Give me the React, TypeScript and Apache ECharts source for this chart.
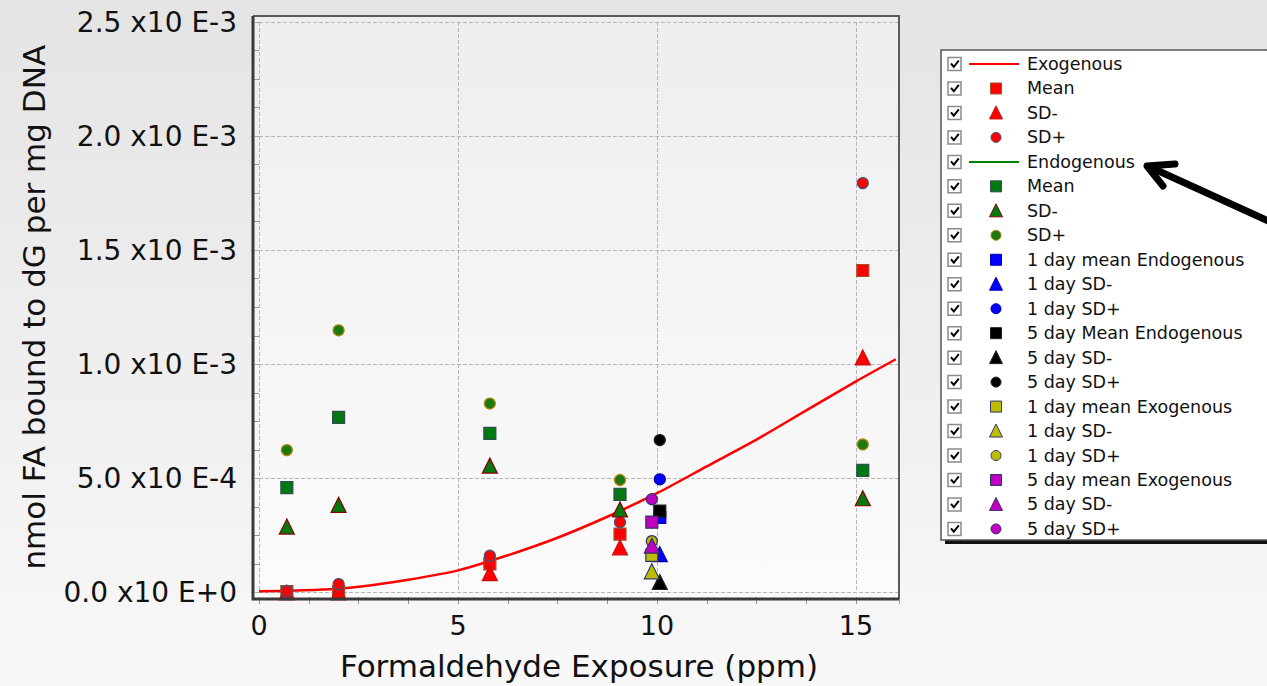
import React, { useEffect, useRef } from "react";
import * as echarts from "echarts";

// ---------- data ----------
const xTickLabels = ["0", "5", "10", "15"];
const yTickLabels = ["0.0 x10 E+0", "5.0 x10 E-4", "1.0 x10 E-3", "1.5 x10 E-3", "2.0 x10 E-3", "2.5 x10 E-3"];

// exogenous model curve
const exoCurveX = [0, 1.5, 2.5, 3.75, 5, 6.25, 7.5, 8.75, 10, 11.25, 12.5, 13.75, 15, 16];
const exoCurveY = [0.005e-3, 0.012e-3, 0.025e-3, 0.056e-3, 0.097e-3, 0.163e-3, 0.24e-3, 0.332e-3, 0.435e-3, 0.553e-3, 0.67e-3, 0.798e-3, 0.925e-3, 1.022e-3];
// endogenous model curve (no visible points)
const endoCurveX: number[] = [];
const endoCurveY: number[] = [];

// dose groups
const doseX = [0.7, 2.0, 5.8, 9.07, 15.17];
const exoMean = [0.004e-3, 0.004e-3, 0.125e-3, 0.256e-3, 1.411e-3];
const exoSDMinus = [0, 0, 0.085e-3, 0.198e-3, 1.03e-3];
const exoSDPlus = [0.006e-3, 0.037e-3, 0.161e-3, 0.308e-3, 1.794e-3];
const endoMean = [0.46e-3, 0.767e-3, 0.697e-3, 0.43e-3, 0.535e-3];
const endoSDMinus = [0.289e-3, 0.384e-3, 0.556e-3, 0.364e-3, 0.413e-3];
const endoSDPlus = [0.624e-3, 1.149e-3, 0.828e-3, 0.493e-3, 0.649e-3];

// time-course groups
const endoDayX = [10.07];
const day1EndoMean = [0.329e-3];
const day1EndoSDMinus = [0.168e-3];
const day1EndoSDPlus = [0.496e-3];
const day5EndoMean = [0.357e-3];
const day5EndoSDMinus = [0.046e-3];
const day5EndoSDPlus = [0.668e-3];
const exoDayX = [9.87];
const day1ExoMean = [0.163e-3];
const day1ExoSDMinus = [0.093e-3];
const day1ExoSDPlus = [0.225e-3];
const day5ExoMean = [0.308e-3];
const day5ExoSDMinus = [0.205e-3];
const day5ExoSDPlus = [0.409e-3];

const legendLabels = [
  "Exogenous", "Mean", "SD-", "SD+",
  "Endogenous", "Mean", "SD-", "SD+",
  "1 day mean Endogenous", "1 day SD-", "1 day SD+",
  "5 day Mean Endogenous", "5 day SD-", "5 day SD+",
  "1 day mean Exogenous", "1 day SD-", "1 day SD+",
  "5 day mean Exogenous", "5 day SD-", "5 day SD+",
];

type Kind = "line" | "rect" | "triangle" | "circle";
interface Def { kind: Kind; xs: number[]; ys: number[]; color: string; border: string; }

const defs: Def[] = [
  { kind: "line", xs: exoCurveX, ys: exoCurveY, color: "#ff0000", border: "#ff0000" },
  { kind: "rect", xs: doseX, ys: exoMean, color: "#ff0000", border: "#a0522d" },
  { kind: "triangle", xs: doseX, ys: exoSDMinus, color: "#ff0000", border: "#c81010" },
  { kind: "circle", xs: doseX, ys: exoSDPlus, color: "#ff0000", border: "#3a5a7a" },
  { kind: "line", xs: endoCurveX, ys: endoCurveY, color: "#008000", border: "#008000" },
  { kind: "rect", xs: doseX, ys: endoMean, color: "#007a10", border: "#2f4f4f" },
  { kind: "triangle", xs: doseX, ys: endoSDMinus, color: "#007a10", border: "#8b0000" },
  { kind: "circle", xs: doseX, ys: endoSDPlus, color: "#1a7a10", border: "#b8860b" },
  { kind: "rect", xs: endoDayX, ys: day1EndoMean, color: "#0000ff", border: "#0000aa" },
  { kind: "triangle", xs: endoDayX, ys: day1EndoSDMinus, color: "#0000ff", border: "#0000aa" },
  { kind: "circle", xs: endoDayX, ys: day1EndoSDPlus, color: "#0000ff", border: "#0000aa" },
  { kind: "rect", xs: endoDayX, ys: day5EndoMean, color: "#000000", border: "#222222" },
  { kind: "triangle", xs: endoDayX, ys: day5EndoSDMinus, color: "#000000", border: "#222222" },
  { kind: "circle", xs: endoDayX, ys: day5EndoSDPlus, color: "#000000", border: "#222222" },
  { kind: "rect", xs: exoDayX, ys: day1ExoMean, color: "#bdbd00", border: "#333366" },
  { kind: "triangle", xs: exoDayX, ys: day1ExoSDMinus, color: "#bdbd00", border: "#333366" },
  { kind: "circle", xs: exoDayX, ys: day1ExoSDPlus, color: "#bdbd00", border: "#333366" },
  { kind: "rect", xs: exoDayX, ys: day5ExoMean, color: "#c000c0", border: "#333366" },
  { kind: "triangle", xs: exoDayX, ys: day5ExoSDMinus, color: "#c000c0", border: "#333366" },
  { kind: "circle", xs: exoDayX, ys: day5ExoSDPlus, color: "#c000c0", border: "#333366" },
];

const FONT = '"DejaVu Sans", Verdana, sans-serif';
const symbolSize: Record<string, number> = { rect: 12, triangle: 15, circle: 11 };

export default function App() {
  const ref = useRef<HTMLDivElement>(null);
  useEffect(() => {
    if (!ref.current) return;
    const chart = echarts.init(ref.current, null, { renderer: "svg" });

    const series: any[] = defs.map((d, i) => {
      const data = d.xs.map((x, k) => [x, d.ys[k]]);
      if (d.kind === "line") {
        return {
          name: legendLabels[i] + "_" + i,
          type: "line",
          data,
          smooth: 0.25,
          showSymbol: false,
          lineStyle: { color: d.color, width: 2.5 },
          itemStyle: { color: d.color },
          z: 2,
        };
      }
      return {
        name: legendLabels[i] + "_" + i,
        type: "scatter",
        data,
        symbol: d.kind,
        symbolSize: symbolSize[d.kind],
        itemStyle: { color: d.color, borderColor: d.border, borderWidth: 1.2, opacity: 1 },
        z: 3 + i * 0.01,
      };
    });

    // legend graphic
    const g: any[] = [];
    const rowY0 = 64;
    const rowStep = 24.47;
    g.push({ type: "rect", shape: { x: 945, y: 54, width: 400, height: 490 }, style: { fill: "#111" }, z: 20 });
    g.push({ type: "rect", shape: { x: 941, y: 50, width: 400, height: 490 }, style: { fill: "#ffffff", stroke: "#555", lineWidth: 1.5 }, z: 21 });
    legendLabels.forEach((lab, i) => {
      const cy = rowY0 + i * rowStep;
      const d = defs[i];
      g.push({ type: "rect", shape: { x: 948, y: cy - 6.5, width: 13, height: 13 }, style: { fill: "#fff", stroke: "#8a8a8a", lineWidth: 1.5 }, z: 22 });
      g.push({ type: "polyline", shape: { points: [[951, cy - 0.5], [953.8, cy + 2.8], [958.8, cy - 3.5]] }, style: { stroke: "#000", lineWidth: 2, fill: null }, z: 23 });
      if (d.kind === "line") {
        g.push({ type: "line", shape: { x1: 969, y1: cy, x2: 1019, y2: cy }, style: { stroke: d.color, lineWidth: 2 }, z: 22 });
      } else if (d.kind === "rect") {
        g.push({ type: "rect", shape: { x: 990.5, y: cy - 5.5, width: 11, height: 11 }, style: { fill: d.color, stroke: d.border, lineWidth: 1 }, z: 22 });
      } else if (d.kind === "triangle") {
        g.push({ type: "polygon", shape: { points: [[996, cy - 7], [1002.5, cy + 6], [989.5, cy + 6]] }, style: { fill: d.color, stroke: d.border, lineWidth: 1 }, z: 22 });
      } else {
        g.push({ type: "circle", shape: { cx: 996, cy, r: 5 }, style: { fill: d.color, stroke: d.border, lineWidth: 1 }, z: 22 });
      }
      g.push({ type: "text", x: 1027, y: cy, style: { text: lab, font: `17.5px ${FONT}`, fill: "#111", verticalAlign: "middle", align: "left" }, z: 22 });
    });
    // arrow
    g.push({ type: "polyline", shape: { points: [[1275, 224], [1152, 168]] }, style: { stroke: "#000", lineWidth: 7, lineCap: "round", fill: null }, z: 30 });
    g.push({ type: "polyline", shape: { points: [[1175, 164], [1147, 166], [1163, 186]] }, style: { stroke: "#000", lineWidth: 7, lineCap: "round", lineJoin: "round", fill: null }, z: 30 });
    // plot background and frame
    g.unshift({
      type: "rect",
      shape: { x: 253, y: 16, width: 646, height: 583 },
      style: {
        fill: { type: "linear", x: 0, y: 0, x2: 0, y2: 1, colorStops: [{ offset: 0, color: "#eeeeee" }, { offset: 1, color: "#fbfbfb" }] },
      },
      z: -10,
    });
    g.push({ type: "polyline", shape: { points: [[253, 16], [899, 16], [899, 599]] }, style: { stroke: "#5a5a5a", lineWidth: 2, fill: null }, z: 10 });
    g.push({ type: "polyline", shape: { points: [[253, 16], [253, 599], [899, 599]] }, style: { stroke: "#3a3a3a", lineWidth: 3, fill: null }, z: 10 });

    const option: any = {
      animation: false,
      backgroundColor: "transparent",
      grid: { left: 259, right: 368, top: 22, bottom: 91.5, containLabel: false },
      xAxis: [
        {
          type: "value",
          min: 0,
          max: 16.08,
          interval: 5,
          offset: 4.5,
          axisLine: { show: false },
          axisTick: { show: false },
          splitLine: { show: true, lineStyle: { type: "dashed", color: "#b5b5b5", width: 1 } },
          axisLabel: {
            margin: 15,
            fontSize: 27,
            fontFamily: FONT,
            color: "#111",
            formatter: (v: number) => {
              const idx = Math.round(v / 5);
              return Math.abs(v - idx * 5) < 1e-6 && xTickLabels[idx] !== undefined ? xTickLabels[idx] : "";
            },
          },
          name: "Formaldehyde Exposure (ppm)",
          nameLocation: "middle",
          nameGap: 53,
          nameTextStyle: { fontSize: 31, fontFamily: FONT, color: "#111" },
        },
        {
          type: "value",
          position: "bottom",
          min: 0,
          max: 16.08,
          interval: 1.25,
          offset: 4.5,
          axisLine: { show: false },
          axisTick: { show: true, length: 7, lineStyle: { color: "#999", width: 1 } },
          axisLabel: { show: false },
          splitLine: { show: false },
        },
      ],
      yAxis: {
        type: "value",
        min: 0,
        max: 0.0025,
        interval: 0.0005,
        offset: 6,
        axisLine: { show: false },
        axisTick: { show: true, length: 8, lineStyle: { type: "dashed", color: "#aaa" } },
        minorTick: { show: true, splitNumber: 4, length: 6, lineStyle: { color: "#999" } },
        splitLine: { show: true, lineStyle: { type: "dashed", color: "#b5b5b5", width: 1 } },
        axisLabel: {
          margin: 16,
          fontSize: 28,
          fontFamily: FONT,
          color: "#111",
          formatter: (v: number) => yTickLabels[Math.round(v / 0.0005)] ?? "",
        },
        name: "nmol FA bound to dG per mg DNA",
        nameLocation: "middle",
        nameGap: 204,
        nameTextStyle: { fontSize: 31, fontFamily: FONT, color: "#111" },
      },
      series,
      graphic: { elements: g },
    };
    chart.setOption(option);
    return () => chart.dispose();
  }, []);

  return (
    <div
      ref={ref}
      style={{
        position: "fixed",
        left: 0,
        top: 0,
        width: 1267,
        height: 686,
        background: "linear-gradient(#e4e4e4, #f8f8f8)",
      }}
    />
  );
}
